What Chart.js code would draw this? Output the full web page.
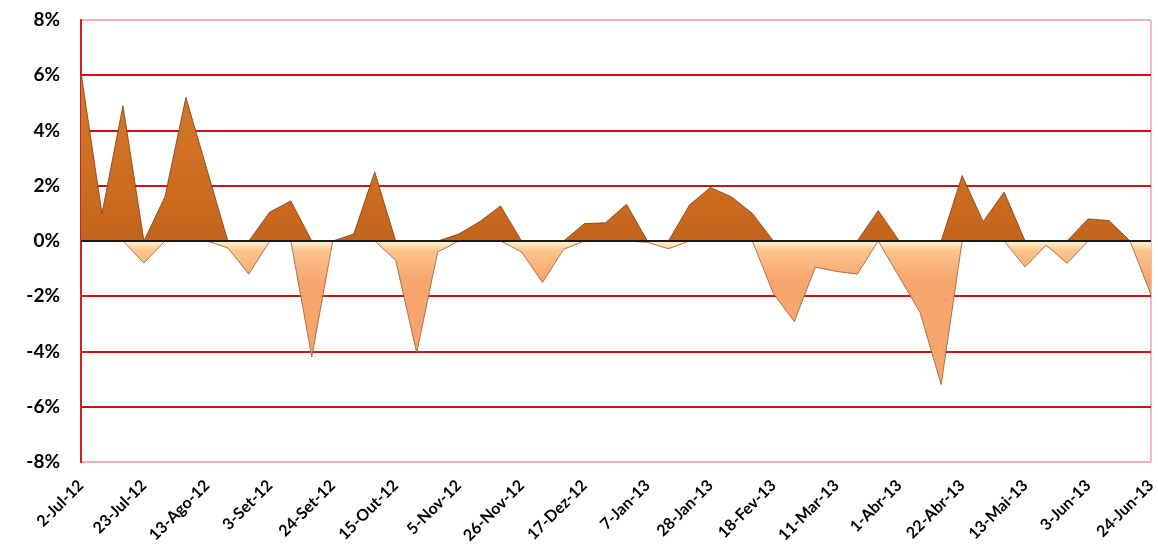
<!DOCTYPE html>
<html>
<head>
<meta charset="utf-8">
<script src="https://cdn.jsdelivr.net/npm/chart.js@4.4.1/dist/chart.umd.min.js"></script>
<style>
  html, body { margin: 0; padding: 0; background: #fff; }
  #wrap { width: 1158px; height: 546px; }
</style>
</head>
<body>
<div id="wrap"><canvas id="weekly_change"></canvas></div>
<script>
// weekly dates (every third one is shown on the axis)
const weeks = [
    '2-Jul-12', '9-Jul-12', '16-Jul-12', '23-Jul-12', '30-Jul-12',
    '6-Ago-12', '13-Ago-12', '20-Ago-12', '27-Ago-12',
    '3-Set-12', '10-Set-12', '17-Set-12', '24-Set-12',
    '1-Out-12', '8-Out-12', '15-Out-12', '22-Out-12', '29-Out-12',
    '5-Nov-12', '12-Nov-12', '19-Nov-12', '26-Nov-12',
    '3-Dez-12', '10-Dez-12', '17-Dez-12', '24-Dez-12', '31-Dez-12',
    '7-Jan-13', '14-Jan-13', '21-Jan-13', '28-Jan-13',
    '4-Fev-13', '11-Fev-13', '18-Fev-13', '25-Fev-13',
    '4-Mar-13', '11-Mar-13', '18-Mar-13', '25-Mar-13',
    '1-Abr-13', '8-Abr-13', '15-Abr-13', '22-Abr-13', '29-Abr-13',
    '6-Mai-13', '13-Mai-13', '20-Mai-13', '27-Mai-13',
    '3-Jun-13', '10-Jun-13', '17-Jun-13', '24-Jun-13'
];

// weekly change in %
const weeklyChange = [
    6.1, 1.0, 4.9, -0.8, 1.6, 5.2, 2.6, -0.25, -1.2, 1.05,
    1.45, -4.2, 0, 0.25, 2.5, -0.7, -4.05, -0.4, 0.25, 0.7,
    1.27, -0.4, -1.5, -0.3, 0.63, 0.66, 1.33, -0.05, -0.28, 1.3,
    1.94, 1.6, 1.0, -1.9, -2.92, -0.95, -1.1, -1.2, 1.1, -1.3,
    -2.6, -5.2, 2.37, 0.7, 1.77, -0.94, -0.15, -0.81, 0.8, 0.74,
    0, -1.95
];

const yTicks = [-8, -6, -4, -2, 0, 2, 4, 6, 8];

// gains and losses drawn as two areas, like the excel sheet
const gains = weeklyChange.map(v => Math.max(v, 0));
const losses = weeklyChange.map(v => Math.min(v, 0));

function gainFill(ctx) {
    const chart = ctx.chart;
    const area = chart.chartArea;
    if (!area) return '#C9691F';
    const y0 = chart.scales.y.getPixelForValue(0);
    const g = chart.ctx.createLinearGradient(0, area.top, 0, y0);
    g.addColorStop(0, '#DC8030');
    g.addColorStop(0.8, '#CB6B1F');
    g.addColorStop(1, '#C2641B');
    return g;
}

function lossFill(ctx) {
    const chart = ctx.chart;
    const area = chart.chartArea;
    if (!area) return '#F6A86E';
    const y0 = chart.scales.y.getPixelForValue(0);
    const g = chart.ctx.createLinearGradient(0, y0, 0, y0 + 40);
    g.addColorStop(0, '#FFF6D2');
    g.addColorStop(0.25, '#FBC48C');
    g.addColorStop(1, '#F7A56D');
    return g;
}

// black zero line on top of the areas
const zeroLine = {
    id: 'zeroLine',
    afterDatasetsDraw(chart) {
        const { ctx, chartArea } = chart;
        const y = chart.scales.y.getPixelForValue(0);
        ctx.save();
        ctx.strokeStyle = '#1a1a1a';
        ctx.lineWidth = 2;
        ctx.beginPath();
        ctx.moveTo(chartArea.left, y);
        ctx.lineTo(chartArea.right, y);
        ctx.stroke();
        ctx.restore();
    }
};

Chart.defaults.font.family = 'Lato, "Open Sans", sans-serif';
Chart.defaults.color = '#000';

new Chart(document.getElementById('weekly_change').getContext('2d'), {
    type: 'line',
    data: {
        labels: weeks,
        datasets: [
            {
                label: 'Alta',
                data: gains,
                fill: 'origin',
                backgroundColor: gainFill,
                borderColor: 'rgba(120, 60, 20, 0.8)',
                borderWidth: 1,
                pointRadius: 0,
                tension: 0
            },
            {
                label: 'Baixa',
                data: losses,
                fill: 'origin',
                backgroundColor: lossFill,
                borderColor: 'rgba(150, 90, 50, 0.8)',
                borderWidth: 1,
                pointRadius: 0,
                tension: 0
            }
        ]
    },
    options: {
        responsive: true,
        maintainAspectRatio: false,
        animation: false,
        layout: { padding: { top: 20, right: 7, left: 0, bottom: 0 } },
        plugins: {
            legend: { display: false },
            tooltip: { enabled: false }
        },
        scales: {
            x: {
                grid: {
                    drawTicks: false,
                    lineWidth: 2,
                    color: ctx => ctx.index === weeks.length - 1 ? '#EDBDBD' : 'transparent'
                },
                border: { display: false },
                ticks: {
                    autoSkip: false,
                    maxRotation: 45,
                    minRotation: 45,
                    padding: 14,
                    font: { size: 16, weight: 'bold' },
                    callback: (val, i) => i % 3 === 0 ? weeks[i] : ''
                },
                afterFit: scale => {
                    scale.height = 84;
                    scale.paddingLeft = 0;
                    scale.paddingRight = 0;
                }
            },
            y: {
                min: -8,
                max: 8,
                afterBuildTicks: scale => {
                    scale.ticks = yTicks.map(v => ({ value: v }));
                },
                grid: {
                    drawTicks: false,
                    lineWidth: 2,
                    color: ctx => {
                        const v = ctx.tick && ctx.tick.value;
                        if (v === 8 || v === -8) return '#EDB3B3';
                        if (v === 0) return 'transparent';
                        return '#CC1414';
                    }
                },
                border: { display: true, color: '#D02020', width: 2 },
                ticks: {
                    padding: 21,
                    font: { size: 19, weight: 'bold' },
                    callback: v => v + '%'
                },
                afterFit: scale => {
                    scale.width = 81;
                    scale.paddingTop = 0;
                    scale.paddingBottom = 0;
                }
            }
        }
    },
    plugins: [zeroLine]
});
</script>
</body>
</html>
